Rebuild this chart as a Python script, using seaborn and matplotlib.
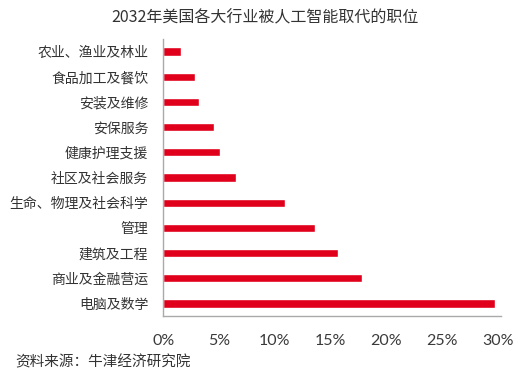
import matplotlib
matplotlib.use("Agg")
import matplotlib.pyplot as plt
import seaborn as sns
import pandas as pd

# 行业及被取代职位占比（%），从上到下
industries = ['农业、渔业及林业', '食品加工及餐饮', '安装及维修', '安保服务', '健康护理支援',
              '社区及社会服务', '生命、物理及社会科学', '管理', '建筑及工程',
              '商业及金融营运', '电脑及数学']
shares = [1.6, 2.8, 3.2, 4.5, 5.1, 6.5, 10.9, 13.6, 15.7, 17.8, 29.8]
xticks = [0, 5, 10, 15, 20, 25, 30]

df = pd.DataFrame({'industry': industries, 'share': shares})

sns.set_style('white')
plt.rcParams['font.family'] = ['Noto Sans CJK SC', 'DejaVu Sans']

fig = plt.figure(figsize=(5.24, 3.78), dpi=100)
ax = fig.add_axes([0.312, 0.164, 0.644, 0.733])

sns.barplot(data=df, x='share', y='industry', orient='h', color='#E0001B',
            saturation=1, width=0.33, ax=ax)

ax.set_xlim(0, 30.3)
ax.set_xticks(xticks)
ax.set_xticklabels([f'{t}%' for t in xticks], fontsize=11.5, color='#3a3a3a',
                   family=['Lato', 'DejaVu Sans'])
ax.tick_params(axis='x', length=0, pad=13)
ax.tick_params(axis='y', length=0, pad=11, labelsize=10, labelcolor='#333333')
ax.set_xlabel('')
ax.set_ylabel('')

sns.despine(ax=ax, top=True, right=True)
for s in ['left', 'bottom']:
    ax.spines[s].set_color('#aaaaaa')
    ax.spines[s].set_linewidth(1.0)

fig.suptitle('2032年美国各大行业被人工智能取代的职位', x=0.506, y=0.975,
             fontsize=11.5, color='#333333')
fig.text(0.03, 0.042, '资料来源：牛津经济研究院', fontsize=10.5, color='#333333',
         style='italic', ha='left', va='center')

fig.savefig('out.png', dpi=100)
